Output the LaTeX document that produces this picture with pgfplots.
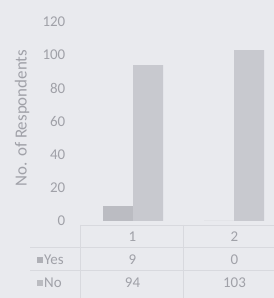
\documentclass[border=0pt]{standalone}
\usepackage{pgfplots}
\pgfplotsset{compat=1.18}
\usepackage{fontspec}
\setmainfont{Carlito}
\definecolor{paper}{HTML}{E9EAEE}
\definecolor{txt}{HTML}{A0A1A8}
\definecolor{yesbar}{HTML}{BBBCC2}
\definecolor{nobar}{HTML}{C8C9CF}
\definecolor{tline}{HTML}{D8D9DE}
\definecolor{keyc}{HTML}{AFB0B6}
\begin{document}
\begin{tikzpicture}[x=1bp,y=1bp]
\clip (0,0) rectangle (274,298);
\fill[paper] (0,0) rectangle (274,298);
% data table lines
\draw[tline, line width=0.6bp] (80,73) -- (274,73);
\draw[tline, line width=0.6bp] (30,51) -- (274,51);
\draw[tline, line width=0.6bp] (30,28) -- (274,28);
\draw[tline, line width=0.6bp] (80,73) -- (80,0);
\draw[tline, line width=0.6bp] (183,73) -- (183,0);
\begin{axis}[
  at={(82.5bp,77bp)}, anchor=south west,
  scale only axis, width=202bp, height=199bp,
  xmin=0.5, xmax=2.5, ymin=0, ymax=120,
  ybar=0pt, bar width=30bp,
  axis line style={draw=none},
  major tick length=0pt,
  xtick=\empty,
  ytick={0,20,...,120},
  /pgf/number format/assume math mode=true,
  yticklabel style={anchor=east, inner sep=0pt, xshift=-17bp, font=\fontsize{15}{17}\selectfont, text=txt},
  clip=false,
]
\addplot[draw=none, fill=yesbar] coordinates {(1,9) (2,0)};
\addplot[draw=none, fill=nobar] coordinates {(1,94) (2,103)};
\end{axis}
\node[rotate=90, text=txt, font=\fontsize{17}{19}\selectfont] at (22,180) {No. of Respondents};
\begin{scope}[every node/.style={text=txt, font=\fontsize{15}{17}\selectfont}]
\node at (132.5,61) {1};
\node at (234.5,61) {2};
\node at (132.5,38) {9};
\node at (234.5,38) {0};
\node at (132.5,15) {94};
\node at (234.5,15) {103};
\node[anchor=west, inner sep=0pt] at (44,38) {Yes};
\node[anchor=west, inner sep=0pt] at (44,15) {No};
\end{scope}
\fill[keyc] (37,35) rectangle (42.5,41);
\fill[keyc!80!paper] (37,12) rectangle (42.5,18);
\end{tikzpicture}
\end{document}
